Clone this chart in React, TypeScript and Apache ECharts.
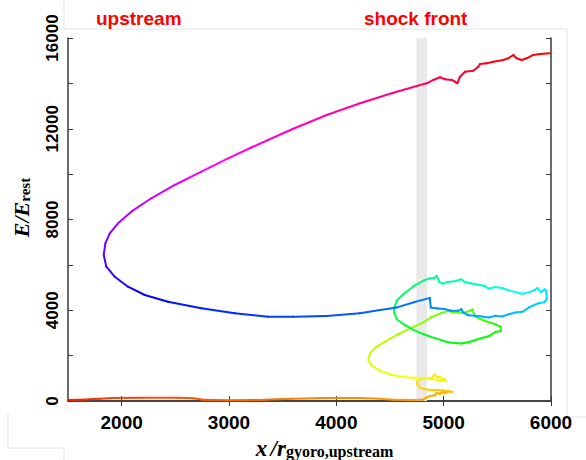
import React, { useEffect, useRef } from 'react';
import * as echarts from 'echarts';

// axis ticks / labels
const xTicks = [2000, 3000, 4000, 5000, 6000];
const yTicks = [0, 2000, 4000, 6000, 8000, 10000, 12000, 14000, 16000];
const yLabels = [0, 4000, 8000, 12000, 16000];
const shockBand = [4745, 4845];

// particle trajectory: position, energy, time phase (colour wheel, degrees)
const posX = [
  1500, 1612, 1798, 1919, 2199, 2516, 2665, 2758, 2981, 3289, 3447, 3596, 3913, 4221, 4407, 4528, 4714, 4808,
  4842, 4873, 4919, 4935, 4966, 4987, 5012, 5043, 5080,
  5012, 4950, 4889, 4826, 4780, 4752, 4758, 4789, 4842, 4894, 4913, 4935, 4966, 4987, 5012, 5019, 4975, 4919, 4795,
  4640, 4516, 4407, 4330, 4298, 4314, 4367, 4454, 4563, 4686, 4795, 4880, 4975, 5039, 5102, 5196, 5244, 5268,
  5291, 5386, 5481, 5528, 5534, 5481, 5418, 5354, 5291, 5228, 5165, 5102, 5039, 4912, 4818, 4723, 4628, 4564,
  4539, 4539, 4564, 4628, 4723, 4818, 4865,
  4912, 4938, 4959, 4991, 5039, 5102, 5165, 5196, 5259, 5323, 5386, 5418, 5481, 5544, 5607, 5670, 5734, 5797,
  5844, 5875, 5907, 5939, 5954,
  5961, 5939, 5891, 5844, 5797, 5734, 5670, 5607, 5544, 5481, 5418, 5354, 5291, 5228, 5181, 5165, 5134, 5070,
  5007, 4944, 4880, 4871,
  4723, 4565, 4407, 4221, 3910, 3599, 3363, 3053, 2742, 2432, 2215, 2059, 1935, 1857, 1833, 1848, 1889, 1966,
  2090, 2276, 2494, 2742, 2991, 3208, 3363, 3599, 3910, 4221, 4531, 4749, 4842,
  4904, 4966, 5012, 5075, 5106, 5127, 5152, 5199, 5276, 5323, 5339, 5401, 5463, 5556, 5603, 5649, 5680, 5727,
  5773, 5835, 5898, 5991,
];
const energy = [
  44, 57, 101, 132, 145, 145, 119, 57, 31, 44, 75, 101, 132, 132, 101, 57, 44, 57,
  163, 220, 251, 366, 309, 410, 339, 428, 397,
  454, 485, 485, 516, 586, 736, 882, 970, 983, 1027, 1177, 1071, 1045, 957, 970, 868, 895, 957, 1001,
  1045, 1146, 1336, 1556, 1807, 2103, 2367, 2614, 2909, 3205, 3425, 3681, 3875, 3963, 3901, 3901, 3976, 4033,
  3725, 3526, 3381, 3275, 3081, 3037, 2856, 2781, 2676, 2588, 2530, 2557, 2588, 2781, 2931, 3125, 3381, 3606,
  3901, 4126, 4426, 4725, 5069, 5320, 5395,
  5426, 5519, 5246, 5175, 5246, 5276, 5369, 5246, 5175, 5127, 5069, 4950, 5025, 4981, 4875, 4800, 4725, 4800,
  4875, 4981, 4800, 4919, 4875,
  4501, 4351, 4320, 4232, 4126, 3932, 3901, 3826, 3725, 3756, 3681, 3725, 3756, 3782, 3901, 4051, 3976, 3976,
  4051, 4082, 4126, 4545,
  4351, 4126, 4007, 3866, 3747, 3716, 3716, 3866, 4086, 4377, 4672, 5038, 5479, 5920, 6436, 6951, 7392, 7833,
  8344, 8935, 9521, 10108, 10698, 11174, 11505, 11999, 12607, 13123, 13590, 13885, 14004,
  14150, 14269, 14181, 14150, 14075, 14004, 14295, 14516, 14560, 14736, 14855, 14886, 14957, 15031, 15106, 15252, 15106, 15031,
  15106, 15252, 15296, 15327,
];
const phase = [
  5, 8, 12, 14, 17, 19, 20, 21, 23, 25, 27, 29, 31, 33, 35, 36, 37, 38,
  39, 40, 40, 41, 41, 42, 42, 43, 44,
  46, 47, 48, 49, 50, 51, 52, 53, 54, 55, 55, 56, 56, 57, 57, 58, 58, 59, 60,
  62, 64, 66, 68, 70, 72, 74, 77, 80, 83, 86, 90, 94, 96, 98, 100, 102, 103,
  104, 107, 110, 113, 115, 117, 119, 120, 121, 122, 123, 124, 125, 127, 129, 131, 133, 135,
  137, 139, 141, 144, 147, 150, 152,
  154, 155, 156, 157, 159, 161, 163, 164, 166, 168, 170, 171, 173, 175, 177, 178, 180, 181,
  182, 183, 184, 185, 186,
  188, 189, 190, 191, 192, 194, 195, 196, 197, 198, 199, 200, 201, 202, 203, 204, 205, 206,
  207, 208, 209, 210,
  212, 214, 216, 218, 221, 224, 226, 229, 232, 236, 240, 245, 251, 257, 262, 268, 273, 278,
  283, 288, 293, 298, 302, 306, 309, 313, 318, 323, 328, 333, 338,
  342, 344, 346, 347, 348, 349, 350, 351, 352, 353, 353, 354, 355, 356, 357, 357, 358, 358,
  359, 359, 360, 360,
];

const NUM_FONT = '"Liberation Sans", Arial, sans-serif';
const SERIF = '"Liberation Serif", "DejaVu Serif", serif';
const AXIS_COLOR = '#3a3a3a';
const plain = (v: number) => String(v);

export default function App() {
  const ref = useRef<HTMLDivElement>(null);

  useEffect(() => {
    if (!ref.current) return;
    const chart = echarts.init(ref.current, undefined, { renderer: 'svg' });

    const segments: number[][] = [];
    for (let i = 0; i < posX.length - 1; i++) {
      segments.push([posX[i], energy[i], posX[i + 1], energy[i + 1], (phase[i] + phase[i + 1]) / 2]);
    }

    const axisLine = { show: true, lineStyle: { color: AXIS_COLOR, width: 1.5 } };
    const tickStyle = { show: true, inside: true, length: 5, lineStyle: { color: AXIS_COLOR, width: 1 } };

    chart.setOption({
      animation: false,
      backgroundColor: '#ffffff',
      grid: { left: 68, right: 35, top: 38, bottom: 59, containLabel: false, outerBoundsMode: 'none' },
      visualMap: {
        show: false,
        type: 'continuous',
        seriesIndex: 1,
        dimension: 4,
        min: 0,
        max: 360,
        inRange: { color: ['#ff0000', '#ffff00', '#00ff00', '#00ffff', '#0000ff', '#ff00ff', '#ff0000'] },
      },
      xAxis: [
        {
          type: 'value',
          position: 'bottom',
          min: 1500,
          max: 6000,
          axisLine,
          axisTick: { ...tickStyle, customValues: xTicks },
          splitLine: { show: false },
          axisLabel: {
            customValues: xTicks,
            formatter: plain,
            margin: 12,
            color: '#000',
            fontSize: 19,
            fontWeight: 'bold',
            fontFamily: NUM_FONT,
          },
          name: '{it|x} {it|/}{it|r}{sub|gyoro,upstream}',
          nameLocation: 'middle',
          nameGap: 28,
          nameTextStyle: {
            padding: [0, 0, 0, 30],
            rich: {
              it: { fontFamily: SERIF, fontStyle: 'italic', fontWeight: 'bold', fontSize: 23, color: '#000', lineHeight: 22, verticalAlign: 'bottom' },
              sub: { fontFamily: SERIF, fontWeight: 'bold', fontSize: 16, color: '#000', lineHeight: 18, verticalAlign: 'bottom' },
            },
          },
        },
        {
          type: 'value',
          position: 'top',
          min: 1500,
          max: 6000,
          axisLine,
          axisTick: { ...tickStyle, customValues: xTicks },
          axisLabel: { show: false },
          splitLine: { show: false },
        },
      ],
      yAxis: [
        {
          type: 'value',
          position: 'left',
          min: 0,
          max: 16000,
          axisLine,
          axisTick: { ...tickStyle, customValues: yTicks },
          splitLine: { show: false },
          axisLabel: {
            customValues: yLabels,
            formatter: plain,
            rotate: 90,
            margin: 7,
            color: '#000',
            fontSize: 17,
            fontWeight: 'bold',
            fontFamily: NUM_FONT,
          },
          name: '{it|E}{it|/}{it|E}{sub|rest}',
          nameLocation: 'middle',
          nameRotate: 90,
          nameGap: 36,
          nameTextStyle: {
            padding: [0, 0, 0, 24],
            rich: {
              it: { fontFamily: SERIF, fontStyle: 'italic', fontWeight: 'bold', fontSize: 22, color: '#000', lineHeight: 26, verticalAlign: 'bottom' },
              sub: { fontFamily: SERIF, fontWeight: 'bold', fontSize: 15, color: '#000', lineHeight: 22, verticalAlign: 'bottom' },
            },
          },
        },
        {
          type: 'value',
          position: 'right',
          min: 0,
          max: 16000,
          axisLine,
          axisTick: { ...tickStyle, customValues: yTicks },
          axisLabel: { show: false },
          splitLine: { show: false },
        },
      ],
      series: [
        {
          type: 'line',
          data: [],
          silent: true,
          z: 1,
          markArea: {
            silent: true,
            itemStyle: { color: '#e9e9e9', opacity: 1 },
            data: [[{ xAxis: shockBand[0] }, { xAxis: shockBand[1] }]],
          },
        },
        {
          type: 'custom',
          z: 3,
          silent: true,
          encode: { x: [0, 2], y: [1, 3] },
          data: segments,
          renderItem: (params: any, api: any) => {
            const p1 = api.coord([api.value(0), api.value(1)]);
            const p2 = api.coord([api.value(2), api.value(3)]);
            return {
              type: 'line',
              shape: { x1: p1[0], y1: p1[1], x2: p2[0], y2: p2[1] },
              style: { stroke: api.visual('color'), lineWidth: 2, lineCap: 'round' },
            };
          },
        },
      ],
      graphic: [
        { type: 'polyline', silent: true, shape: { points: [[64, 0], [64, 29], [567, 29], [567, 417], [586, 417]] }, style: { stroke: '#e4e4e4', lineWidth: 1, fill: 'none' } },
        { type: 'polyline', silent: true, shape: { points: [[8, 413], [8, 448], [64, 448], [64, 460]] }, style: { stroke: '#e4e4e4', lineWidth: 1, fill: 'none' } },
        { type: 'text', left: 96, top: 9, style: { text: 'upstream', fill: '#ff0000', font: 'bold 19px "Liberation Sans", Arial, sans-serif' } },
        { type: 'text', left: 364, top: 9, style: { text: 'shock front', fill: '#ff0000', font: 'bold 19px "Liberation Sans", Arial, sans-serif' } },
      ],
    });

    return () => chart.dispose();
  }, []);

  return (
    <div
      ref={ref}
      style={{ position: 'fixed', left: 0, top: 0, width: 586, height: 460, background: '#fff' }}
    />
  );
}
